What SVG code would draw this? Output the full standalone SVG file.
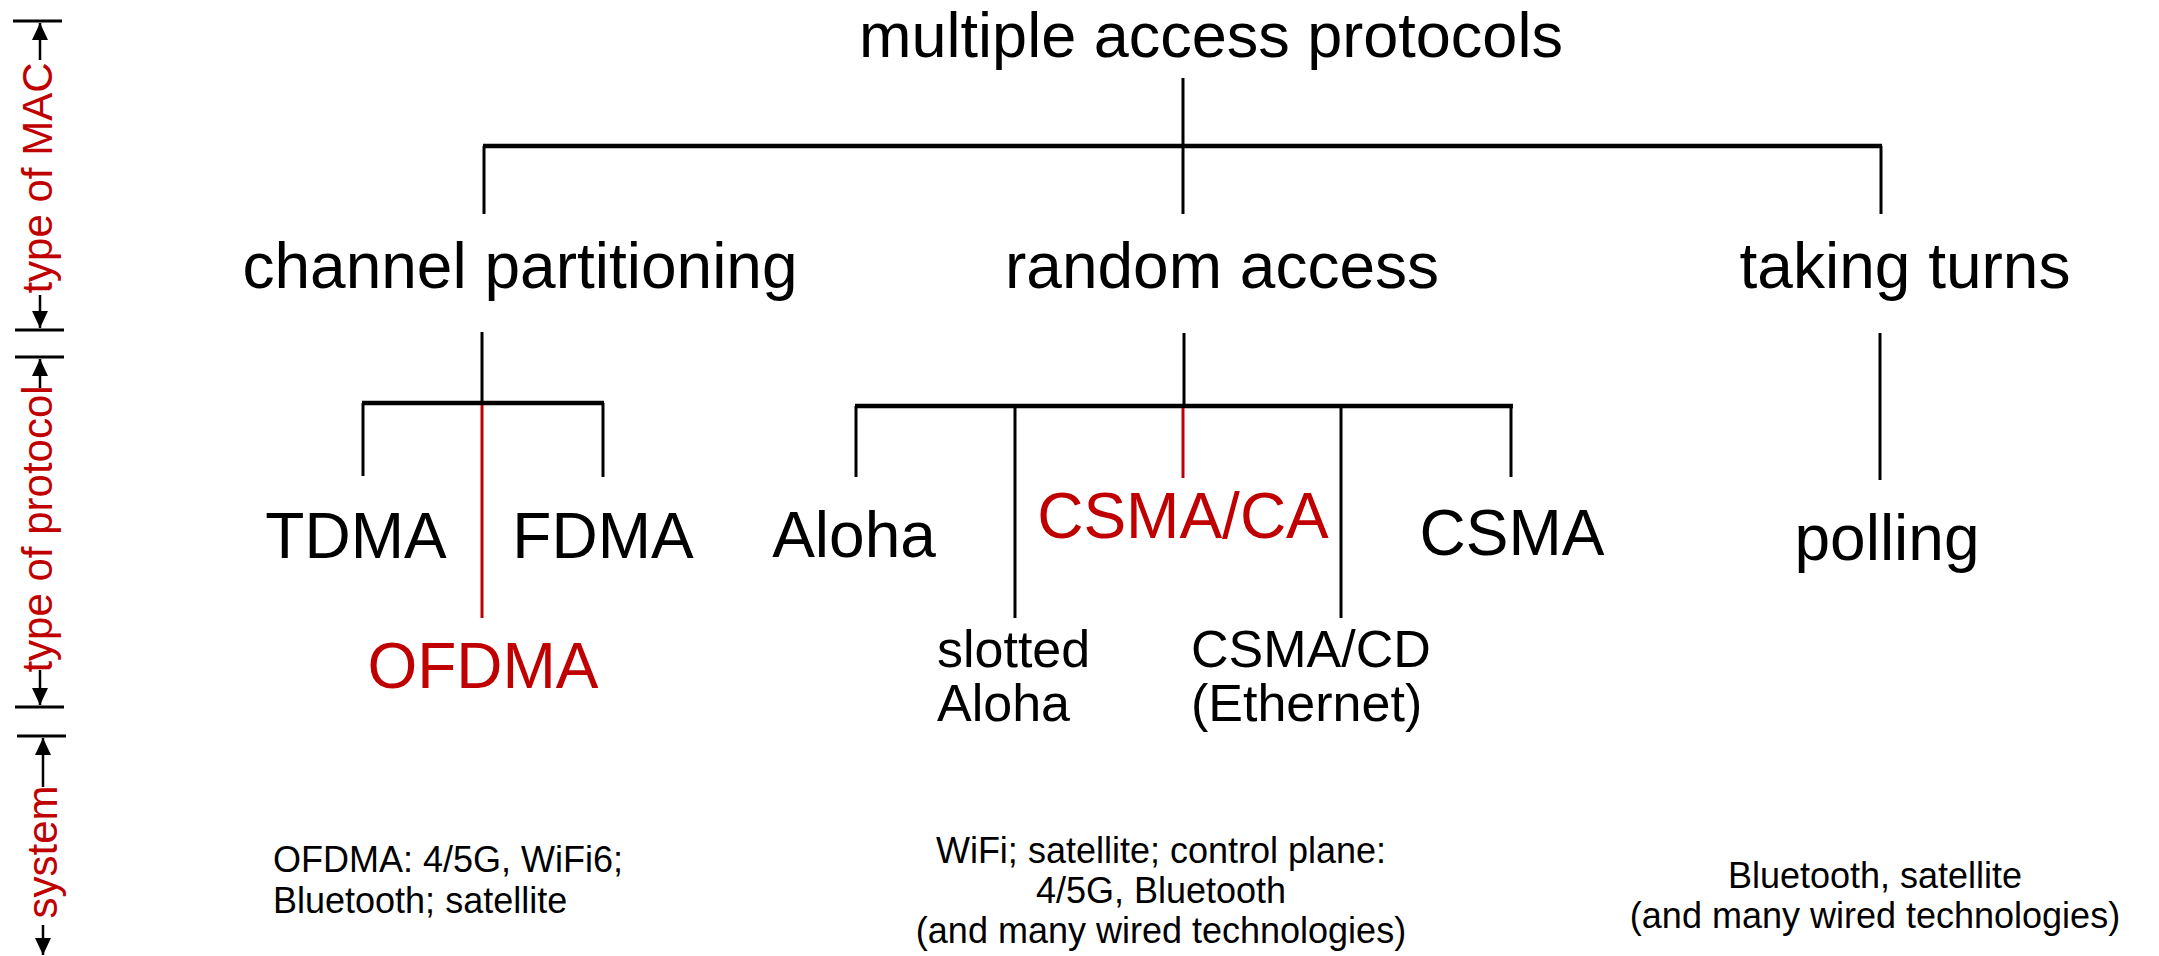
<svg xmlns="http://www.w3.org/2000/svg" width="2159" height="956" viewBox="0 0 2159 956">
<style>
text { font-family: "Liberation Sans", Arial, sans-serif; fill: #000; }
.big { font-size: 64px; }
.title { font-size: 63px; }
.mid { font-size: 52px; }
.small { font-size: 36px; }
.axis { font-size: 42px; fill: #C00000; }
.red { fill: #C00000; }
.ln { stroke: #000; stroke-width: 3; fill: none; }
.bar { stroke: #000; stroke-width: 4.5; fill: none; }
.rln { stroke: #C00000; stroke-width: 3; fill: none; }
.tick { stroke: #000; stroke-width: 3; }
.arr { stroke: #000; stroke-width: 2.5; marker-end: url(#ah); }
</style>
<defs>
<marker id="ah" markerUnits="userSpaceOnUse" markerWidth="16" markerHeight="18" refX="17" refY="8" orient="auto">
<path d="M0,0 L17,8 L0,16 Z" fill="#000"/>
</marker>
</defs>
<rect width="2159" height="956" fill="#fff"/>

<g id="connectors">
<line class="ln" x1="1183" y1="78" x2="1183" y2="146"/>
<line class="bar" x1="483" y1="146" x2="1882" y2="146"/>
<line class="ln" x1="484" y1="146" x2="484" y2="214"/>
<line class="ln" x1="1183" y1="146" x2="1183" y2="214"/>
<line class="ln" x1="1881" y1="146" x2="1881" y2="214"/>

<line class="ln" x1="482" y1="332" x2="482" y2="403"/>
<line class="bar" x1="362" y1="403" x2="604" y2="403"/>
<line class="ln" x1="363" y1="403" x2="363" y2="476"/>
<line class="ln" x1="603" y1="403" x2="603" y2="477"/>
<line class="rln" x1="482" y1="405" x2="482" y2="618"/>

<line class="ln" x1="1184" y1="333" x2="1184" y2="406"/>
<line class="bar" x1="855" y1="406" x2="1513" y2="406"/>
<line class="ln" x1="856" y1="406" x2="856" y2="477"/>
<line class="ln" x1="1015" y1="406" x2="1015" y2="618"/>
<line class="rln" x1="1183" y1="408" x2="1183" y2="478"/>
<line class="ln" x1="1341" y1="406" x2="1341" y2="618"/>
<line class="ln" x1="1511" y1="406" x2="1511" y2="477"/>

<line class="ln" x1="1880" y1="333" x2="1880" y2="480"/>
</g>

<g id="axis">
<line class="tick" x1="13" y1="21" x2="62" y2="21"/>
<line class="arr" x1="40" y1="60" x2="40" y2="23"/>
<text class="axis" text-anchor="middle" transform="translate(52,178) rotate(-90)">type of MAC</text>
<line class="arr" x1="40" y1="295" x2="40" y2="328"/>
<line class="tick" x1="15" y1="330" x2="64" y2="330"/>

<line class="tick" x1="15" y1="357" x2="64" y2="357"/>
<line class="arr" x1="40" y1="388" x2="40" y2="359"/>
<text class="axis" text-anchor="middle" transform="translate(52,529) rotate(-90)">type of protocol</text>
<line class="arr" x1="40" y1="670" x2="40" y2="705"/>
<line class="tick" x1="15" y1="707" x2="64" y2="707"/>

<line class="tick" x1="17" y1="736" x2="66" y2="736"/>
<line class="arr" x1="43" y1="787" x2="43" y2="738"/>
<text class="axis" text-anchor="middle" transform="translate(57,852) rotate(-90)">system</text>
<line class="arr" x1="43" y1="925" x2="43" y2="955"/>
</g>

<g id="n-root"><text class="title" x="1211" y="57" text-anchor="middle">multiple access protocols</text></g>
<g id="n-channel"><text class="big" x="520" y="288" text-anchor="middle">channel partitioning</text></g>
<g id="n-random"><text class="big" x="1222" y="288" text-anchor="middle">random access</text></g>
<g id="n-turns"><text class="big" x="1905" y="288" text-anchor="middle">taking turns</text></g>

<g id="n-tdma"><text class="big" x="356" y="558" text-anchor="middle">TDMA</text></g>
<g id="n-fdma"><text class="big" x="603" y="558" text-anchor="middle">FDMA</text></g>
<g id="n-ofdma"><text class="big red" x="483" y="688" text-anchor="middle">OFDMA</text></g>

<g id="n-aloha"><text class="big" x="854" y="557" text-anchor="middle">Aloha</text></g>
<g id="n-slotted"><text class="mid" x="937" y="667">slotted</text><text class="mid" x="937" y="721">Aloha</text></g>
<g id="n-csmaca"><text class="big red" x="1183" y="538" text-anchor="middle">CSMA/CA</text></g>
<g id="n-csmacd"><text class="mid" x="1191" y="667">CSMA/CD</text><text class="mid" x="1191" y="721">(Ethernet)</text></g>
<g id="n-csma"><text class="big" x="1512" y="555" text-anchor="middle">CSMA</text></g>

<g id="n-polling"><text class="big" x="1887" y="560" text-anchor="middle">polling</text></g>

<g id="sys-channel"><text class="small" x="273" y="872">OFDMA: 4/5G, WiFi6;</text><text class="small" x="273" y="913">Bluetooth; satellite</text></g>
<g id="sys-random">
<text class="small" x="1161" y="863" text-anchor="middle">WiFi; satellite; control plane:</text>
<text class="small" x="1161" y="903" text-anchor="middle">4/5G, Bluetooth</text>
<text class="small" x="1161" y="943" text-anchor="middle">(and many wired technologies)</text>
</g>
<g id="sys-turns">
<text class="small" x="1875" y="888" text-anchor="middle">Bluetooth, satellite</text>
<text class="small" x="1875" y="928" text-anchor="middle">(and many wired technologies)</text>
</g>
</svg>
